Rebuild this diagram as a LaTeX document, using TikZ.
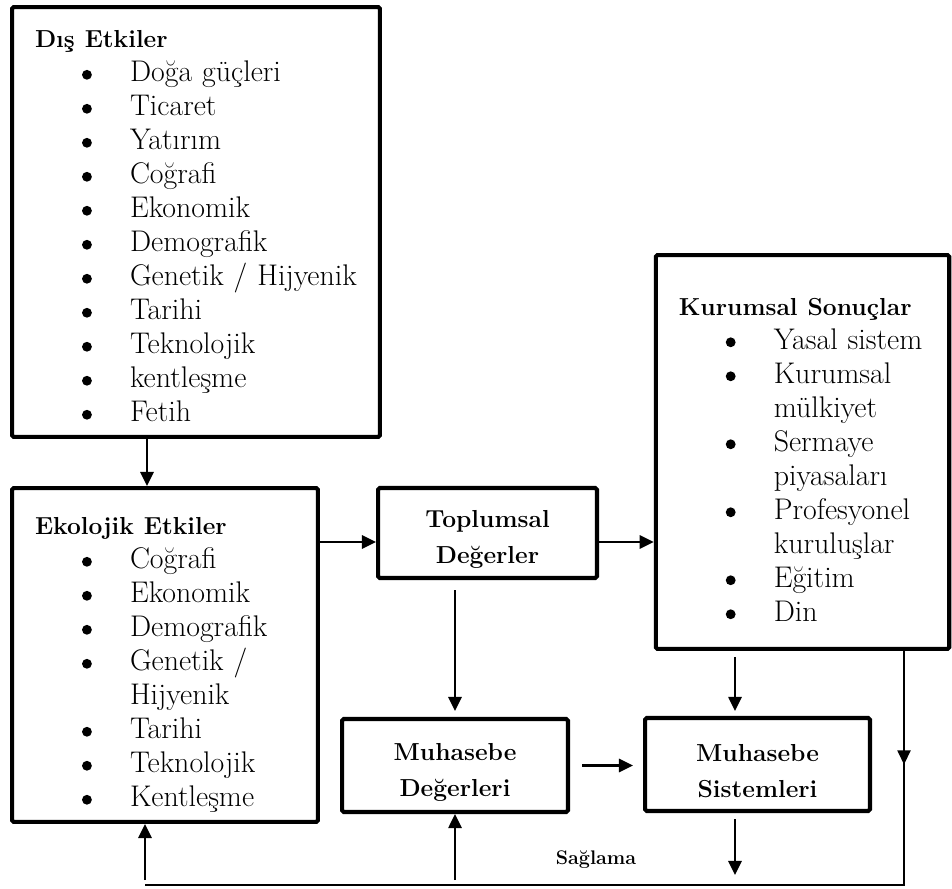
\documentclass[tikz,border=0pt]{standalone}
\usepackage{tikz}
\usepackage{array}
\usetikzlibrary{arrows.meta, positioning, calc}

% list header, bullet and list layout
\newcommand{\hdr}[1]{\multicolumn{2}{@{}l@{}}{\fontsize{14}{19.35}\selectfont\bfseries #1}}
\newcommand{\blt}{\tikz[baseline={(0pt,-4pt)}]\fill (0pt,0pt) circle (2.8pt);}
\newcolumntype{B}{@{\hspace{0.94cm}}p{0.96cm}@{}l@{}}

\begin{document}
\begin{tikzpicture}[
  x=0.02cm,
  y=-0.02cm,
  listbox/.style={
    rectangle,
    rounded corners=1pt,
    draw,
    line width=2.3pt,
    align=left,
    inner xsep=0.46cm,
    inner ysep=0pt,
    font=\fontsize{17}{19.35}\selectfont
  },
  box/.style={
    rectangle,
    rounded corners=1pt,
    draw,
    line width=2.3pt,
    align=center,
    font=\fontsize{14}{20.5}\selectfont\bfseries
  },
  arrow/.style={
    -{Triangle[length=8pt, width=7.5pt]},
    line width=1.3pt
  },
  thinline/.style={
    line width=0.8pt
  }
]
\useasboundingbox (0,0) rectangle (952,888);

% Left column
\node[listbox, minimum width=7.36cm, minimum height=8.6cm, text width=6.44cm] (dis) at (196,222)
{\begin{tabular}{B}
\noalign{\vspace{0.24cm}}
\hdr{Dış Etkiler}\\
\blt & Doğa güçleri\\
\blt & Ticaret\\
\blt & Yatırım\\
\blt & Coğrafi\\
\blt & Ekonomik\\
\blt & Demografik\\
\blt & Genetik / Hijyenik\\
\blt & Tarihi\\
\blt & Teknolojik\\
\blt & kentleşme\\
\blt & Fetih
\end{tabular}};

\node[listbox, minimum width=6.12cm, minimum height=6.68cm, text width=5.2cm] (eko) at (165,655)
{\begin{tabular}{B}
\noalign{\vspace{0.36cm}}
\hdr{Ekolojik Etkiler}\\
\blt & Coğrafi\\
\blt & Ekonomik\\
\blt & Demografik\\
\blt & Genetik /\\
 & Hijyenik\\
\blt & Tarihi\\
\blt & Teknolojik\\
\blt & Kentleşme
\end{tabular}};

% Right column
\node[listbox, minimum width=5.87cm, minimum height=7.88cm, text width=4.95cm] (kur) at (802.5,452)
{\begin{tabular}{B}
\noalign{\vspace{0.38cm}}
\hdr{Kurumsal Sonuçlar}\\
\blt & Yasal sistem\\
\blt & Kurumsal\\
 & mülkiyet\\
\blt & Sermaye\\
 & piyasaları\\
\blt & Profesyonel\\
 & kuruluşlar\\
\blt & Eğitim\\
\blt & Din
\end{tabular}};

% Middle boxes
\node[box, minimum width=4.38cm, minimum height=1.8cm] (top) at (487.5,533) {\rule{0pt}{0.6cm}Toplumsal\\Değerler};
\node[box, minimum width=4.52cm, minimum height=1.86cm] (mdeg) at (455,765.5) {\rule{0pt}{0.6cm}Muhasebe\\Değerleri};
\node[box, minimum width=4.5cm, minimum height=1.86cm] (msis) at (757.5,764.5) {\rule{0pt}{0.6cm}Muhasebe\\Sistemleri};

\node[font=\fontsize{11.2}{13}\selectfont\bfseries] (sag) at (596,860) {Sağlama};

% Connector positions
\coordinate (xa) at (147,0);
\coordinate (yb) at (0,542);
\coordinate (xc) at (735,0);
\coordinate (lft) at (145,885);
\coordinate (rgt) at (904,885);

% Arrows
\draw[arrow] (dis.south -| xa) -- (eko.north -| xa);
\draw[arrow] (eko.east |- yb) -- (top.west |- yb);
\draw[arrow] (top.east |- yb) -- (kur.west |- yb);
\draw[arrow, shorten <=0.2cm, shorten >=0.12cm] (top.south -| mdeg.north) -- (mdeg.north);
\draw[arrow, shorten <=0.24cm, shorten >=0.2cm] (mdeg.east) -- (msis.west |- mdeg.east);
\draw[arrow, shorten <=0.12cm, shorten >=0.1cm] (kur.south -| xc) -- (msis.north -| xc);
\draw[arrow, shorten <=0.12cm, shorten >=0.2cm] (msis.south -| xc) -- (xc |- lft);

% Feedback line
\draw[thinline] (lft) -- (rgt) -- (kur.south -| rgt);
\draw[arrow, line width=0.8pt] (kur.south -| rgt) -- (rgt |- msis.center);
\draw[arrow, shorten <=0.1cm] (lft) -- (lft |- eko.south);
\draw[arrow, shorten <=0.1cm] (mdeg.south |- lft) -- (mdeg.south);

\end{tikzpicture}
\end{document}
